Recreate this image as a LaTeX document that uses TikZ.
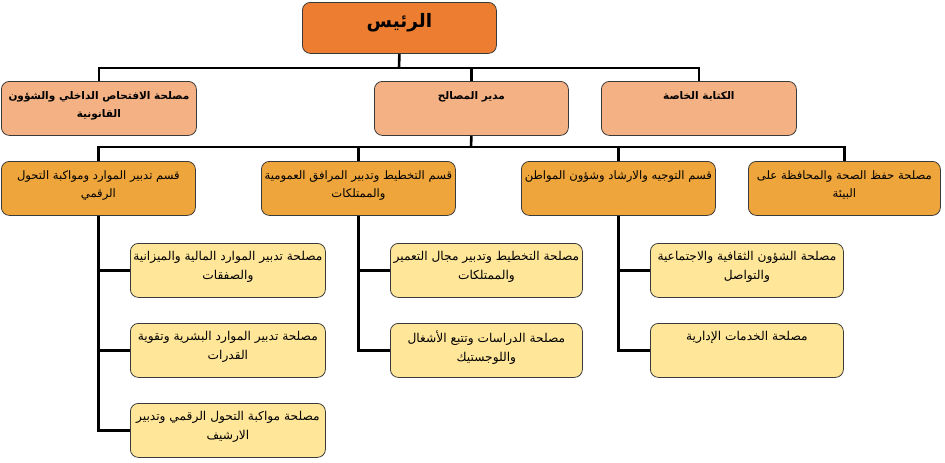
\documentclass[tikz,border=0pt]{standalone}
\usepackage{fontspec}
\newfontfamily\arabicfont[Script=Arabic]{DejaVu Sans}
\TeXXeTstate=1
\definecolor{topfill}{HTML}{ED7D31}
\definecolor{lvtwo}{HTML}{F4B183}
\definecolor{lvthree}{HTML}{EEA53B}
\definecolor{lvfour}{HTML}{FFE699}
\definecolor{edge}{HTML}{3A3A3A}
\newcommand\cbox[4]{\parbox[c][#2pt][t]{#1pt}{\vspace*{#3pt}\centering #4\par}}
\newcommand\rl[1]{\beginR #1\endR}
\newcommand\ftwo{\fontsize{10.5}{18}\selectfont\bfseries}
\newcommand\fthree{\fontsize{11.6}{18}\selectfont}
\newcommand\ffour{\fontsize{12.2}{19}\selectfont}
\begin{document}
\begin{tikzpicture}[x=1pt,y=-1pt,
  boxbase/.style={draw=edge, line width=0.8pt, rounded corners=8pt, inner sep=0pt, anchor=north west},
  topbox/.style={boxbase, fill=topfill},
  twobox/.style={boxbase, fill=lvtwo},
  threebox/.style={boxbase, fill=lvthree},
  fourbox/.style={boxbase, fill=lvfour},
  conn/.style={line width=2.6pt, black}
]
\useasboundingbox (0,0) rectangle (945,463);
\arabicfont
% top
\node[topbox] (top) at (302,2) {\cbox{194}{51}{11}{\fontsize{18.5}{24}\selectfont\bfseries\rl{الرئيس}}};
% level 2
\node[twobox] (ltwoa) at (1,81) {\cbox{195}{54}{10}{\ftwo \rl{مصلحة الافتحاص الداخلي والشؤون}\\\rl{القانونية}}};
\node[twobox] (ltwob) at (374,81) {\cbox{194}{54}{10}{\ftwo \rl{مدير المصالح}}};
\node[twobox] (ltwoc) at (601,81) {\cbox{195}{54}{10}{\ftwo \rl{الكتابة الخاصة}}};
% level 3
\node[threebox] (lthra) at (1,161) {\cbox{194}{54}{9}{\fthree \rl{قسم تدبير الموارد ومواكبة التحول}\\\rl{الرقمي}}};
\node[threebox] (lthrb) at (261,161) {\cbox{194}{54}{9}{\fthree \rl{قسم التخطيط وتدبير المرافق العمومية}\\\rl{والممتلكات}}};
\node[threebox] (lthrc) at (521,161) {\cbox{194}{54}{9}{\fthree \rl{قسم التوجيه والارشاد وشؤون المواطن}}};
\node[threebox] (lthrd) at (748,161) {\cbox{192}{54}{9}{\fthree \rl{مصلحة حفظ الصحة والمحافظة على}\\\rl{البيئة}}};
% level 4
\node[fourbox] (aone) at (130,243) {\cbox{195}{54}{7.5}{\ffour \rl{مصلحة تدبير الموارد المالية والميزانية}\\\rl{والصفقات}}};
\node[fourbox] (atwo) at (130,323) {\cbox{195}{54}{7.5}{\ffour \rl{مصلحة تدبير الموارد البشرية وتقوية}\\\rl{القدرات}}};
\node[fourbox] (athr) at (130,403) {\cbox{195}{54}{7.5}{\ffour \rl{مصلحة مواكبة التحول الرقمي وتدبير}\\\rl{الارشيف}}};
\node[fourbox] (bone) at (390,243) {\cbox{192}{54}{7.5}{\ffour \rl{مصلحة التخطيط وتدبير مجال التعمير}\\\rl{والممتلكات}}};
\node[fourbox] (btwo) at (390,323) {\cbox{192}{54}{7.5}{\ffour \rl{مصلحة الدراسات وتتبع الأشغال}\\\rl{واللوجستيك}}};
\node[fourbox] (cone) at (650,243) {\cbox{193}{54}{7.5}{\ffour \rl{مصلحة الشؤون الثقافية والاجتماعية}\\\rl{والتواصل}}};
\node[fourbox] (ctwo) at (650,323) {\cbox{193}{54}{7.5}{\ffour \rl{مصلحة الخدمات الإدارية}}};
% connectors
\coordinate (busone) at (399,68);
\coordinate (bustwo) at (471,147);
\draw[conn] (top.south) -- (busone);
\draw[conn] (ltwoa.north) |- (busone) -| (ltwoc.north);
\draw[conn] (ltwob.north) -- (ltwob.north |- busone);
\draw[conn] (ltwob.south) -- (bustwo);
\draw[conn] (lthra.north) |- (bustwo) -| (lthrd.north);
\draw[conn] (lthrb.north) -- (lthrb.north |- bustwo);
\draw[conn] (lthrc.north) -- (lthrc.north |- bustwo);
\draw[conn] (lthra.south) |- (athr.west);
\draw[conn] (aone.west) -- (aone.west -| lthra.south);
\draw[conn] (atwo.west) -- (atwo.west -| lthra.south);
\draw[conn] (lthrb.south) |- (btwo.west);
\draw[conn] (bone.west) -- (bone.west -| lthrb.south);
\draw[conn] (lthrc.south) |- (ctwo.west);
\draw[conn] (cone.west) -- (cone.west -| lthrc.south);
\end{tikzpicture}
\end{document}
